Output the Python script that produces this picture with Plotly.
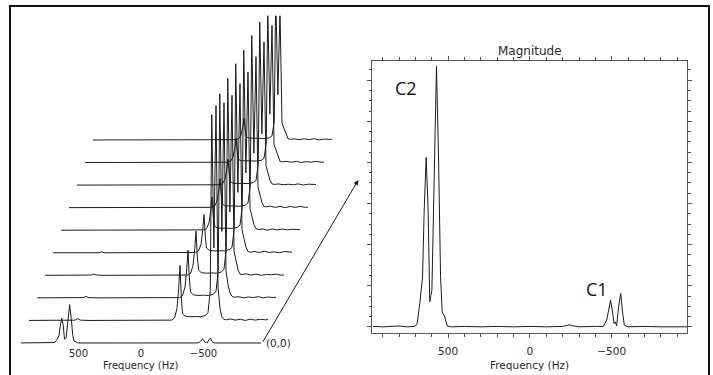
import plotly.graph_objects as go

W, H = 713, 375

# ---------------- data ----------------
# bottom spectrum (also shown enlarged as "Magnitude"), frequency in Hz, magnitude in a.u.
freq0 = [960, 900, 800, 750, 703, 689, 673, 656, 646, 634, 622, 612, 599, 585, 571, 558, 546, 536, 520, 506,
         480, 400, 300, 200, 100, 0, -100, -200, -235, -245, -255, -300, -400, -449, -469, -481, -493, -506, -514, -522,
         -530, -542, -555, -567, -577, -600, -700, -800, -900, -960]
mag0 = [0.01, 0.0, 0.02, 0.0, 0.01, 0.08, 0.57, 1.22, 2.84, 4.12, 2.84, 0.61, 0.89, 4.06, 6.34, 4.06, 1.22, 0.36, 0.24, 0.02,
        0.0, 0.01, 0.0, 0.01, 0.0, 0.01, 0.0, 0.01, 0.03, 0.05, 0.03, 0.0, 0.01, 0.01, 0.16, 0.45, 0.65, 0.33, 0.08, 0.12,
        0.02, 0.49, 0.81, 0.33, 0.04, 0.0, 0.01, 0.0, 0.01, 0.0]

# stacked spectra 1..9 (shared frequency grid)
stack_freq = [960, 800, 640, 590, 570, 550, 480, 300, 100, -100,
              -180, -204, -224, -238, -248, -258, -268, -290, -330, -370,
              -410, -450, -472, -490, -502, -519, -536, -552, -568, -584,
              -600, -620, -650, -690, -730, -770, -810, -850, -890, -930, -952]
mag_t1 = [0, 0, 0, 0.05, 0.3, 0.05, 0, 0, 0, 0,
          0.05, 0.4, 2.0, 5.5, 9.1, 4.0, 1.2, 0.7, 0.6, 0.65,
          0.6, 0.8, 1.3, 5.0, 34.1, 12.0, 35.6, 5.5, 2.0, 0.5,
          0.2, 0.1, 0.25, 0.05, 0.2, 0.0, 0.2, 0.05, 0.2, 0.1, 0.15]
mag_t2 = [0, 0, 0, 0.05, 0.25, 0.05, 0, 0, 0.05, 0,
          0.05, 0.35, 1.8, 4.8, 7.9, 3.5, 1.0, 0.5, 0.4, 0.45,
          0.4, 0.6, 1.1, 4.5, 33.8, 11.0, 32.3, 4.5, 2.2, 0.8,
          0.25, 0.1, 0.2, 0.0, 0.15, 0.05, 0.2, 0.0, 0.15, 0.05, 0.1]
mag_t3 = [0, 0, 0, 0.05, 0.2, 0.05, 0, 0, 0, 0,
          0.05, 0.3, 1.6, 4.4, 7.3, 3.2, 0.9, 0.45, 0.35, 0.4,
          0.35, 0.55, 1.0, 4.3, 32.6, 10.5, 29.8, 4.0, 2.2, 0.9,
          0.2, 0.15, 0.25, 0.05, 0.2, 0.0, 0.15, 0.1, 0.2, 0.0, 0.1]
mag_t4 = [0, 0, 0, 0, 0.15, 0, 0, 0, 0, 0,
          0.05, 0.3, 1.4, 3.8, 6.3, 2.8, 0.8, 0.4, 0.3, 0.35,
          0.3, 0.5, 0.9, 4.0, 31.3, 10.0, 28.0, 3.8, 2.1, 0.9,
          0.2, 0.1, 0.2, 0.05, 0.25, 0.05, 0.15, 0.0, 0.2, 0.1, 0.1]
mag_t5 = [0, 0, 0, 0, 0.1, 0, 0, 0, 0, 0,
          0.05, 0.25, 1.2, 3.3, 5.5, 2.4, 0.7, 0.35, 0.3, 0.3,
          0.3, 0.45, 0.85, 3.8, 29.8, 9.5, 26.2, 3.6, 2.0, 0.9,
          0.25, 0.1, 0.2, 0.0, 0.2, 0.05, 0.2, 0.05, 0.15, 0.1, 0.1]
mag_t6 = [0, 0, 0, 0, 0.05, 0, 0, 0, 0, 0,
          0.05, 0.2, 1.1, 2.9, 4.8, 2.1, 0.6, 0.3, 0.25, 0.3,
          0.25, 0.4, 0.8, 3.6, 28.5, 9.0, 25.0, 3.4, 1.9, 0.8,
          0.2, 0.15, 0.25, 0.05, 0.2, 0.0, 0.2, 0.05, 0.2, 0.05, 0.1]
mag_t7 = [0, 0, 0, 0, 0.05, 0, 0, 0, 0, 0,
          0.05, 0.2, 1.0, 2.6, 4.3, 1.9, 0.55, 0.3, 0.25, 0.25,
          0.25, 0.4, 0.75, 3.4, 27.0, 8.5, 23.7, 3.2, 1.9, 0.8,
          0.2, 0.1, 0.2, 0.05, 0.15, 0.05, 0.2, 0.0, 0.15, 0.1, 0.1]
mag_t8 = [0, 0, 0, 0, 0.05, 0, 0, 0, 0, 0,
          0.05, 0.2, 0.9, 2.4, 4.0, 1.8, 0.5, 0.3, 0.25, 0.25,
          0.25, 0.35, 0.7, 3.2, 25.7, 8.0, 22.7, 3.0, 2.0, 0.9,
          0.2, 0.1, 0.2, 0.05, 0.2, 0.0, 0.15, 0.05, 0.2, 0.05, 0.1]
mag_t9 = [0, 0, 0, 0, 0.05, 0, 0, 0, 0, 0,
          0.05, 0.2, 0.8, 2.2, 3.6, 1.6, 0.5, 0.3, 0.25, 0.25,
          0.25, 0.35, 0.7, 3.0, 24.3, 7.5, 21.5, 2.8, 2.0, 0.9,
          0.2, 0.1, 0.2, 0.05, 0.2, 0.05, 0.2, 0.0, 0.15, 0.1, 0.1]

tick_vals = [500, 0, -500]
tick_text = ["500", "0", "\u2212500"]
peak_labels = ["C2", "C1"]
peak_label_pos = [(757, 5.80), (-408, 0.93)]

# ---------------- layout helpers ----------------
def px_x(p):
    return p / W

def px_y(p):
    return 1 - p / H

LINE = "#1c1c1c"
TXT = "#2a2a2a"
AX = "#555555"
FONT = "DejaVu Sans"

# stacked offsets (drawing geometry)
DX = 64.0     # Hz shift per trace (8 px)
DY = 3.735    # magnitude shift per trace (22.5 px)

fig = go.Figure()

series = [(freq0, mag0)] + [(stack_freq, m) for m in
                            [mag_t1, mag_t2, mag_t3, mag_t4, mag_t5, mag_t6, mag_t7, mag_t8, mag_t9]]
for i, (fr, mg) in enumerate(series):
    fig.add_trace(go.Scatter(
        x=[f - DX * i for f in fr],
        y=[m + DY * i for m in mg],
        mode="lines", line=dict(color=LINE, width=1),
        xaxis="x", yaxis="y", showlegend=False, hoverinfo="skip"))

fig.add_trace(go.Scatter(x=freq0, y=mag0, mode="lines",
                         line=dict(color=LINE, width=1),
                         xaxis="x2", yaxis="y2", showlegend=False, hoverinfo="skip"))

# left axes: 0.125 px/Hz, 0 Hz at px 141; 6.04 px per magnitude unit
L0, L1 = 15, 345
xr_left = [(141 - L0) / 0.125, (141 - L1) / 0.125]
B0, T0 = 346, 15.7
yr_left = [-(B0 - 343) / 6.04, (343 - T0) / 6.04]

fig.update_layout(
    width=W, height=H,
    margin=dict(l=0, r=0, t=0, b=0),
    paper_bgcolor="white", plot_bgcolor="rgba(0,0,0,0)",
    font=dict(family=FONT, size=10.5, color=TXT),
    xaxis=dict(domain=[px_x(L0), px_x(L1)], range=xr_left, showgrid=False, zeroline=False,
               showline=False, ticks="", tickvals=tick_vals, ticktext=tick_text, ticklabelstandoff=0,
               tickfont=dict(family=FONT, size=10, color=TXT), anchor="y"),
    yaxis=dict(domain=[px_y(B0), px_y(T0)], range=yr_left, visible=False, anchor="x"),
    xaxis2=dict(domain=[px_x(372), px_x(687)], range=[965, -960], showgrid=False, zeroline=False,
                showline=True, linecolor=AX, linewidth=1, mirror="ticks",
                ticks="outside", ticklen=4, tickwidth=1, tickcolor=AX,
                tickvals=tick_vals, ticktext=tick_text, ticklabelstandoff=4,
                tickfont=dict(family=FONT, size=10.5, color=TXT),
                minor=dict(dtick=100, tick0=0, ticks="outside", ticklen=2.5, tickcolor=AX, tickwidth=1),
                anchor="y2"),
    yaxis2=dict(domain=[px_y(333), px_y(60.5)], range=[-0.15, 6.48], showgrid=False, zeroline=False,
                showline=True, linecolor=AX, linewidth=1, mirror="ticks",
                ticks="outside", ticklen=4, tickwidth=1, tickcolor=AX,
                dtick=1, tick0=0, showticklabels=False,
                minor=dict(dtick=0.25, tick0=0, ticks="outside", ticklen=2.5, tickcolor=AX, tickwidth=1),
                anchor="x2"),
)

fig.add_shape(type="rect", xref="paper", yref="paper",
              x0=px_x(10), x1=px_x(709), y0=-0.05, y1=px_y(6),
              line=dict(color="#111111", width=2), fillcolor="rgba(0,0,0,0)", layer="above")

ann = [
    dict(x=0, xref="x", y=px_y(365.5), yref="paper", text="Frequency (Hz)", showarrow=False,
         xanchor="center", yanchor="middle", font=dict(size=10)),
    dict(x=px_x(529.5), xref="paper", y=px_y(365), yref="paper", text="Frequency (Hz)", showarrow=False,
         xanchor="center", yanchor="middle"),
    dict(x=px_x(529.5), xref="paper", y=px_y(51), yref="paper", text="Magnitude", showarrow=False,
         xanchor="center", yanchor="middle", font=dict(size=12)),
    dict(x=px_x(264), xref="paper", y=px_y(343), yref="paper", text="(0,0)", showarrow=False,
         xanchor="left", yanchor="middle"),
    dict(x=px_x(358.3), xref="paper", y=px_y(180), yref="paper", text="", showarrow=True,
         ax=-96.3, ay=163.3, arrowhead=2, arrowsize=1, arrowwidth=1, arrowcolor=LINE, standoff=0),
]
for lab, (fx, my) in zip(peak_labels, peak_label_pos):
    ann.append(dict(x=fx, xref="x2", y=my, yref="y2", text=lab, showarrow=False,
                    xanchor="center", yanchor="middle",
                    font=dict(family="Open Sans", size=18, color="#111111")))
fig.update_layout(annotations=ann)

fig.write_html("out.html", config={"displayModeBar": False},
               post_script="document.body.style.margin='0px';document.body.style.overflow='hidden';")
